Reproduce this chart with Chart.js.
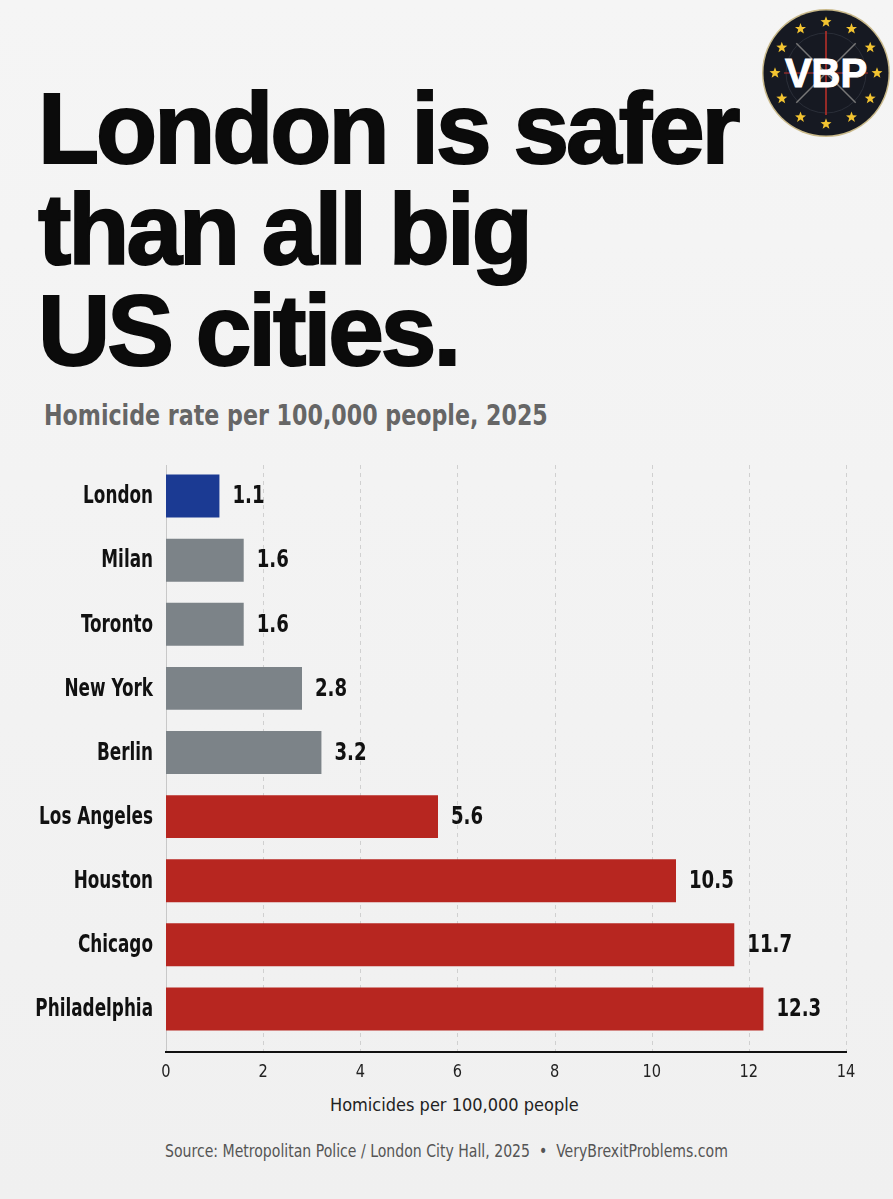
<!DOCTYPE html>
<html><head><meta charset="utf-8">
<script src="https://cdn.jsdelivr.net/npm/chart.js@4.4.1/dist/chart.umd.min.js"></script>
<style>
html,body{margin:0;padding:0;}
body{width:893px;height:1199px;position:relative;overflow:hidden;background:linear-gradient(#f5f5f5,#f0f0f0);font-family:"Liberation Sans",Arial,sans-serif;}
#title{position:absolute;left:38px;top:78px;font-weight:bold;font-size:100px;line-height:101px;letter-spacing:-3px;color:#0b0b0b;-webkit-text-stroke:2px #0b0b0b;margin:0;}
.cond{font-family:"DejaVu Sans Condensed","Liberation Sans",sans-serif;white-space:nowrap;transform-origin:0 0;}
#sub{position:absolute;left:44px;top:399px;font-weight:bold;font-size:28px;color:#666;transform:scaleX(0.88);}
#xt{position:absolute;left:330px;top:1094px;font-size:18px;color:#222;}
#src{position:absolute;left:165px;top:1141px;font-size:17px;color:#555;transform:scaleX(0.92);}
#wrap{position:absolute;left:0;top:450px;width:893px;height:640px;}
#logo{position:absolute;left:756px;top:3px;}
</style></head>
<body>
<svg id="logo" width="140" height="140" viewBox="0 0 140 140"></svg>
<div id="title">London is safer<br>than all big<br>US cities.</div>
<div id="sub" class="cond">Homicide rate per 100,000 people, 2025</div>
<div id="wrap"><canvas id="c"></canvas></div>
<div id="xt" class="cond">Homicides per 100,000 people</div>
<div id="src" class="cond">Source: Metropolitan Police / London City Hall, 2025 &nbsp;•&nbsp; VeryBrexitProblems.com</div>
<script>
const cities = ["London","Milan","Toronto","New York","Berlin","Los Angeles","Houston","Chicago","Philadelphia"];
const rates = [1.1,1.6,1.6,2.8,3.2,5.6,10.5,11.7,12.3];
const groups = ["london","other","other","other","other","us","us","us","us"];
const xTicks = [0,2,4,6,8,10,12,14];
const groupColors = {london:"#1b3a93", other:"#7c8388", us:"#b72620"};

// logo (decorative)
(function(){
  const svg=document.getElementById('logo');
  const cx=70,cy=70; let s='';
  s+=`<circle cx="${cx}" cy="${cy}" r="64" fill="#c9b98a"/><circle cx="${cx}" cy="${cy}" r="62.5" fill="#161922"/>`;
  s+=`<circle cx="${cx}" cy="${cy}" r="40" fill="none" stroke="#2a2e38" stroke-width="1"/>`;
  s+=`<line x1="${cx}" y1="${cy-42}" x2="${cx}" y2="${cy+42}" stroke="#c0302a" stroke-width="1.5"/>`;
  s+=`<line x1="${cx-42}" y1="${cy}" x2="${cx+42}" y2="${cy}" stroke="#c0302a" stroke-width="1"/>`;
  [45,135].forEach(a=>{const r=a*Math.PI/180;s+=`<line x1="${cx-42*Math.cos(r)}" y1="${cy-42*Math.sin(r)}" x2="${cx+42*Math.cos(r)}" y2="${cy+42*Math.sin(r)}" stroke="#777" stroke-width="1.5"/>`;});
  for(let i=0;i<12;i++){
    const a=i*30*Math.PI/180, px=cx+51*Math.sin(a), py=cy-51*Math.cos(a);
    let pts=[];for(let k=0;k<10;k++){const rr=k%2?2.4:5.8,aa=k*36*Math.PI/180;pts.push((px+rr*Math.sin(aa)).toFixed(1)+','+(py-rr*Math.cos(aa)).toFixed(1));}
    s+=`<polygon points="${pts.join(' ')}" fill="#f3c431"/>`;
  }
  s+=`<text x="${cx}" y="${cy+14}" text-anchor="middle" font-family="Liberation Sans,Arial" font-weight="bold" font-size="40" fill="#fff" stroke="#fff" stroke-width="1">VBP</text>`;
  svg.innerHTML=s;
})();

const condensed = '"DejaVu Sans Condensed","Liberation Sans",sans-serif';

function squeezedText(ctx, text, x, y, sx, align){
  ctx.save();
  ctx.translate(x, y);
  ctx.scale(sx, 1);
  ctx.textAlign = align;
  ctx.fillText(text, 0, 0);
  ctx.restore();
}

const gridPlugin = {
  id:'customGrid',
  beforeDatasetsDraw(chart){
    const {ctx, chartArea:a, scales:{x}} = chart;
    ctx.save();
    ctx.strokeStyle='#d0d0d0'; ctx.lineWidth=1; ctx.setLineDash([4,4]);
    xTicks.forEach(v=>{ if(v===0) return; const px=Math.round(x.getPixelForValue(v))+0.5; ctx.beginPath(); ctx.moveTo(px,a.top+1); ctx.lineTo(px,a.bottom+11); ctx.stroke();});
    ctx.setLineDash([]);
    ctx.strokeStyle='#c8c8c8'; ctx.beginPath(); const lx=Math.round(a.left)+0.5; ctx.moveTo(lx,a.top+1); ctx.lineTo(lx,a.bottom+11); ctx.stroke();
    ctx.restore();
  },
  afterDatasetsDraw(chart){
    const {ctx, chartArea:a, scales:{x,y}} = chart;
    ctx.save();
    ctx.strokeStyle='#111'; ctx.lineWidth=2;
    ctx.beginPath(); ctx.moveTo(a.left-1,a.bottom+11); ctx.lineTo(a.right+1,a.bottom+11); ctx.stroke();
    ctx.textBaseline='middle';
    ctx.fillStyle='#111'; ctx.font='bold 24px '+condensed;
    cities.forEach((c,i)=>{ squeezedText(ctx, c, a.left-13, y.getPixelForValue(i)+1, 0.78, 'right'); });
    const meta = chart.getDatasetMeta(0);
    meta.data.forEach((bar,i)=>{ squeezedText(ctx, rates[i].toFixed(1), bar.x+13, bar.y+1, 0.84, 'left'); });
    ctx.fillStyle='#222'; ctx.font='18px '+condensed;
    xTicks.forEach(v=>{ squeezedText(ctx, String(v), x.getPixelForValue(v), a.bottom+31, 0.9, 'center'); });
    ctx.restore();
  }
};

new Chart(document.getElementById('c'), {
  type:'bar',
  data:{ labels:cities, datasets:[{ data:rates, backgroundColor:groups.map(g=>groupColors[g]), barPercentage:0.67, categoryPercentage:1.0, borderWidth:0 }]},
  options:{
    indexAxis:'y', responsive:true, maintainAspectRatio:false, animation:false,
    layout:{padding:{top:14,right:47,left:0,bottom:0}},
    plugins:{legend:{display:false}, tooltip:{enabled:false}},
    scales:{
      x:{ min:0, max:14, afterBuildTicks(s){ s.ticks = xTicks.map(v=>({value:v})); },
          grid:{display:false, drawTicks:false}, border:{display:false},
          ticks:{ display:false },
          afterFit(s){ s.height = 49; } },
      y:{ grid:{display:false, drawTicks:false}, border:{display:false},
          ticks:{ display:false },
          afterFit(s){ s.width = 166; } }
    }
  },
  plugins:[gridPlugin]
});
</script>
</body></html>
